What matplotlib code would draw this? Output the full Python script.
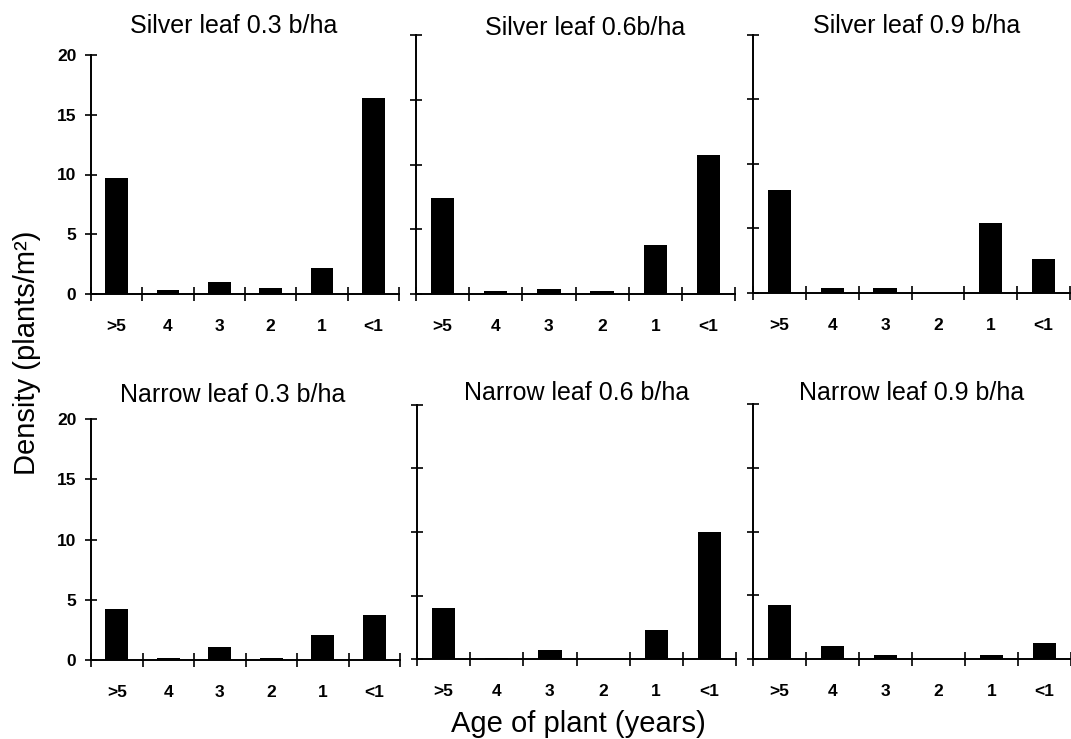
import matplotlib
matplotlib.use('Agg')
import matplotlib.pyplot as plt
import numpy as np
from matplotlib.ticker import FixedLocator, NullFormatter

plt.rcParams['font.family'] = ['Liberation Sans', 'DejaVu Sans']

# data
ages = ['>5', '4', '3', '2', '1', '<1']
titles = ['Silver leaf 0.3 b/ha', 'Silver leaf 0.6b/ha', 'Silver leaf 0.9 b/ha',
          'Narrow leaf 0.3 b/ha', 'Narrow leaf 0.6 b/ha', 'Narrow leaf 0.9 b/ha']
silver_03 = [9.7, 0.3, 1.0, 0.5, 2.2, 16.4]
silver_06 = [7.4, 0.25, 0.4, 0.25, 3.75, 10.7]
silver_09 = [8.0, 0.35, 0.35, 0.0, 5.4, 2.6]
narrow_03 = [4.25, 0.2, 1.1, 0.2, 2.1, 3.7]
narrow_06 = [4.0, 0.05, 0.7, 0.0, 2.25, 10.0]
narrow_09 = [4.2, 1.05, 0.3, 0.0, 0.35, 1.25]
series = [silver_03, silver_06, silver_09, narrow_03, narrow_06, narrow_09]
yticks = [0, 5, 10, 15, 20]

W, H = 1071, 739
fig = plt.figure(figsize=(W / 100, H / 100), dpi=100)

# panel boxes in pixels: left, right, top, bottom (scanned figure, panels differ a bit)
boxes = [(91, 399, 55, 294), (416, 735, 35, 294), (753, 1070, 35, 293),
         (91, 400, 419, 660), (417, 736, 405, 659), (753, 1071, 404, 659)]
# title centre x and baseline y in pixels
title_pos = [(234, 33), (585, 35), (917, 33), (233, 402), (577, 400), (912, 400)]

x = np.arange(len(ages)) + 0.5
for i, (vals, box) in enumerate(zip(series, boxes)):
    l, r, t, b = box
    ax = fig.add_axes([l / W, 1 - b / H, (r - l) / W, (b - t) / H])
    ax.bar(x, vals, width=0.44, color='black')
    ax.set_xlim(0, len(ages))
    ax.set_ylim(0, 20)
    ax.spines['top'].set_visible(False)
    ax.spines['right'].set_visible(False)
    ax.spines['left'].set_linewidth(1.4)
    ax.spines['bottom'].set_linewidth(1.4)
    # ticks on the category boundaries, labels in the middle
    ax.xaxis.set_major_locator(FixedLocator(np.arange(len(ages) + 1)))
    ax.xaxis.set_major_formatter(NullFormatter())
    ax.xaxis.set_minor_locator(FixedLocator(x))
    ax.set_xticklabels(ages, minor=True, fontweight='bold', fontsize=12.5)
    ax.tick_params(axis='x', which='major', direction='inout', length=10, width=1.2)
    ax.tick_params(axis='x', which='minor', length=0, pad=18)
    ax.set_yticks(yticks)
    ax.tick_params(axis='y', direction='inout', length=9, width=1.2, pad=6)
    if i % 3 == 0:
        ax.set_yticklabels([str(v) for v in yticks], fontweight='bold', fontsize=12.5)
    else:
        ax.set_yticklabels([])
    ax.patch.set_alpha(0)
    tx, ty = title_pos[i]
    fig.text(tx / W, 1 - ty / H, titles[i], ha='center', va='baseline', fontsize=18)

fig.text(27 / W, 1 - 353 / H, 'Density (plants/m²)', rotation=90, ha='center', va='center', fontsize=21)
fig.text(578 / W, 1 - 732 / H, 'Age of plant (years)', ha='center', va='baseline', fontsize=21)

fig.savefig('out.png', dpi=100)
